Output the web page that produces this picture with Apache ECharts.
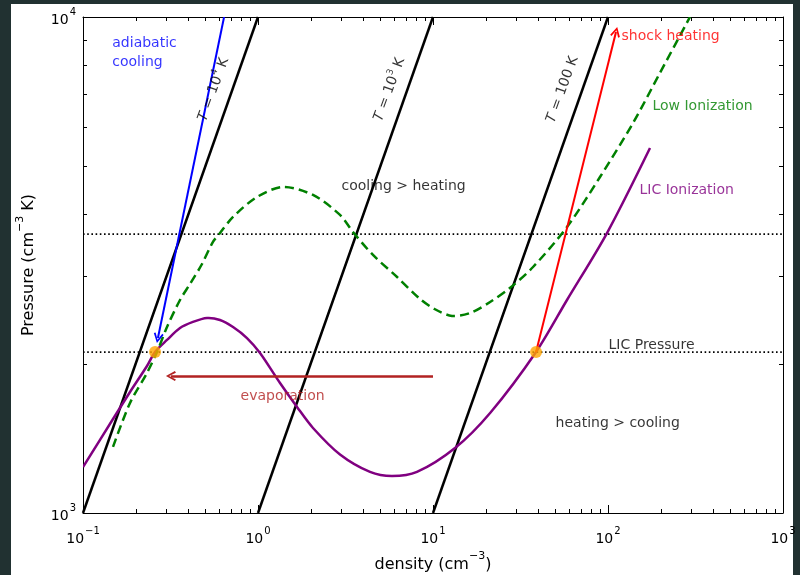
<!DOCTYPE html>
<html><head><meta charset="utf-8">
<script src="https://cdn.jsdelivr.net/npm/echarts@6/dist/echarts.min.js"></script>
<style>
html,body{margin:0;padding:0;background:#213131;width:800px;height:575px;overflow:hidden;}
#bg{position:absolute;left:11px;top:4px;width:782px;height:571px;background:#fff;}
#chart{position:absolute;left:0;top:0;width:800px;height:575px;}
</style></head><body><div id="bg"></div><div id="chart"></div>
<script>
// ---- data (density cm^-3, pressure cm^-3 K) ----
const xTickValues = [0.1, 1, 10, 100, 1000];
const yTickValues = [1000, 10000];
const isotherm1e4 = [[0.1, 1000], [1, 10000]];
const isotherm1e3 = [[1, 1000], [10, 10000]];
const isotherm100 = [[10, 1000], [100, 10000]];
const licPressure = 2110;
const upperPressure = 3650;
const licIonization = [
  [0.1, 1238], [0.1484, 1547], [0.1856, 1754], [0.2321, 1979], [0.258, 2112],
  [0.302, 2233], [0.3584, 2360], [0.425, 2428], [0.5113, 2473], [0.6066, 2450],
  [0.72, 2371], [0.865, 2253], [1.027, 2102], [1.336, 1828], [1.671, 1636],
  [2.062, 1484], [2.942, 1312], [4.365, 1210], [5.83, 1187], [8.1, 1210],
  [13.36, 1352], [21.2, 1591], [38.8, 2112], [58.3, 2688], [98.7, 3668], [173.8, 5443]
];
const lowIonization = [
  [0.1484, 1359], [0.1856, 1667], [0.2321, 1916], [0.2648, 2112], [0.302, 2371],
  [0.3584, 2688], [0.41, 2900], [0.475, 3162], [0.553, 3519], [0.6066, 3668],
  [0.72, 3953], [0.987, 4337], [1.39, 4543], [2.062, 4377], [2.942, 3990],
  [3.49, 3685], [4.54, 3313], [6.23, 2991], [8.43, 2701], [10.2, 2578],
  [12.84, 2496], [16.27, 2530], [21.2, 2663], [27.5, 2842], [37.3, 3133],
  [58.3, 3772], [90, 4758], [139, 6113], [198, 7712], [294, 10000]
];
const equilibriumPoints = [[0.258, 2112], [38.8, 2112]];
const adiabaticArrow = [[0.64, 10000], [0.268, 2253]];
const shockArrow = [[38.8, 2112], [111.1, 9329]];
const evaporationArrow = [[10, 1888], [0.318, 1888]];

// ---- annotation placement (data coords) ----
const notes = [
  {text: 'adiabatic\ncooling', at: [0.148, 8543], color: '#0000ff'},
  {text: 'shock heating', at: [120.2, 9199], color: '#ff0000'},
  {text: 'Low Ionization', at: [180.7, 6645], color: '#008000'},
  {text: 'LIC Ionization', at: [152.4, 4500], color: '#800080'},
  {text: 'cooling > heating', at: [3.02, 4585], color: '#000'},
  {text: 'LIC Pressure', at: [101.4, 2191], color: '#000'},
  {text: 'evaporation', at: [0.8, 1729], color: '#b22222'},
  {text: 'heating > cooling', at: [50.5, 1526], color: '#000'},
  {text: '{i|T} = 10{s|4} K', at: [0.561, 7125], color: '#000', rot: 70},
  {text: '{i|T} = 10{s|3} K', at: [5.68, 7125], color: '#000', rot: 70},
  {text: '{i|T} = 100 K', at: [55.3, 7125], color: '#000', rot: 70}
];

const FONT = 'DejaVu Sans';
function pow10Label(v) {
  const k = Math.round(Math.log10(v));
  return '{b|10}{s|' + String(k).replace('-', '−') + '}';
}
const supRich = {
  b: {fontFamily: FONT, fontSize: 14, color: '#000', lineHeight: 20, verticalAlign: 'bottom'},
  s: {fontFamily: FONT, fontSize: 10, color: '#000', lineHeight: 20, verticalAlign: 'top', padding: [0, 0, 0, 1]}
};
const xMin = xTickValues[0], xMax = xTickValues[xTickValues.length - 1];
const yMin = yTickValues[0], yMax = yTickValues[yTickValues.length - 1];

function minorValues(lo, hi) {
  const out = [];
  for (let d = lo; d < hi; d *= 10) for (let m = 2; m <= 9; m++) out.push(m * d);
  return out;
}

const chevron = 'path://M5,0 L10,9 L8.4,10 L5,3.2 L1.6,10 L0,9 Z';

const baseAxis = {
  type: 'log', logBase: 10,
  axisLine: {show: true, lineStyle: {color: '#000', width: 1}},
  axisTick: {show: true, inside: true, length: 8, lineStyle: {color: '#000', width: 1}},
  splitLine: {show: false},
  minorTick: {show: false}
};

const chart = echarts.init(document.getElementById('chart'), null, {renderer: 'canvas'});
const series = [];

[isotherm1e4, isotherm1e3, isotherm100].forEach(d => series.push({
  type: 'line', data: d, showSymbol: false, symbol: 'none', silent: true, z: 2,
  lineStyle: {color: '#000', width: 2.5}
}));
[licPressure, upperPressure].forEach(p => series.push({
  type: 'line', data: [[xMin, p], [xMax, p]], showSymbol: false, symbol: 'none', silent: true, z: 2,
  lineStyle: {color: '#000', width: 1.6, type: [1.6, 2.6]}
}));

// smooth curves: one polyline through all the series' points, mapped by the axes
function curveSeries(name, pts, style) {
  return {
    type: 'custom', name: name, silent: true, z: 3, clip: true,
    data: pts,
    encode: {x: 0, y: 1},
    renderItem: function (params, api) {
      if (params.dataIndex !== 0) return null;
      const px = pts.map(p => api.coord(p));
      return {
        type: 'polyline',
        shape: {points: px, smooth: 0.3},
        style: Object.assign({fill: null, lineJoin: 'round', lineCap: 'butt'}, style)
      };
    }
  };
}
series.push(curveSeries('LIC Ionization', licIonization, {stroke: '#800080', lineWidth: 2.5}));
series.push(curveSeries('Low Ionization', lowIonization, {stroke: '#008000', lineWidth: 2.5, lineDash: [9, 5]}));

series.push({
  type: 'lines', coordinateSystem: 'cartesian2d', silent: true, z: 4,
  symbol: ['none', chevron], symbolSize: [10, 10],
  data: [
    {coords: adiabaticArrow, lineStyle: {color: '#0000ff', width: 2}},
    {coords: shockArrow, lineStyle: {color: '#ff0000', width: 2}},
    {coords: evaporationArrow, lineStyle: {color: '#b22222', width: 2.5}}
  ],
  lineStyle: {opacity: 1, curveness: 0}
});
series.push({
  type: 'scatter', data: equilibriumPoints, symbolSize: 12, silent: true, z: 5,
  itemStyle: {color: '#ffa500'}
});
series.push({
  type: 'scatter', silent: true, z: 6, symbolSize: 1,
  itemStyle: {color: 'rgba(0,0,0,0)'},
  data: notes.map(n => ({
    value: n.at,
    label: {
      show: true, formatter: n.text, color: n.color, rotate: n.rot || 0,
      position: [0, 0], align: n.rot ? 'center' : 'left', verticalAlign: 'middle',
      offset: n.rot ? [0, 0] : [0, 2],
      fontFamily: FONT, fontSize: 14, lineHeight: 19,
      rich: {
        i: {fontStyle: 'italic', fontFamily: FONT, fontSize: 14, color: n.color, lineHeight: 19},
        s: {fontFamily: FONT, fontSize: 9, color: n.color, lineHeight: 19, verticalAlign: 'top'}
      }
    }
  }))
});
// minor log ticks on all four sides
series.push({
  type: 'custom', silent: true, z: 7, clip: false,
  data: [[1, 1000]],
  renderItem: function (params, api) {
    const ch = [];
    const st = {stroke: '#000', lineWidth: 1};
    minorValues(xMin, xMax).forEach(v => {
      const b = api.coord([v, yMin]), t = api.coord([v, yMax]);
      const x = Math.round(b[0]) + 0.5;
      ch.push({type: 'line', shape: {x1: x, y1: b[1], x2: x, y2: b[1] - 4}, style: st});
      ch.push({type: 'line', shape: {x1: x, y1: t[1], x2: x, y2: t[1] + 4}, style: st});
    });
    minorValues(yMin, yMax).forEach(v => {
      const l = api.coord([xMin, v]), r = api.coord([xMax, v]);
      const y = Math.round(l[1]) + 0.5;
      ch.push({type: 'line', shape: {x1: l[0], y1: y, x2: l[0] + 4, y2: y}, style: st});
      ch.push({type: 'line', shape: {x1: r[0], y1: y, x2: r[0] - 4, y2: y}, style: st});
    });
    return {type: 'group', children: ch};
  }
});

const nameRich = {
  n: {fontFamily: FONT, fontSize: 16, color: '#000', lineHeight: 22, verticalAlign: 'bottom'},
  s: {fontFamily: FONT, fontSize: 11, color: '#000', lineHeight: 22, verticalAlign: 'top'}
};

chart.setOption({
  animation: false,
  backgroundColor: 'transparent',
  grid: {left: 83, right: 17, top: 17, bottom: 62, containLabel: false, outerBoundsMode: 'none'},
  xAxis: [
    Object.assign({}, baseAxis, {
      position: 'bottom', min: xMin, max: xMax,
      name: '{n|density (cm}{s|−3}{n|)}', nameLocation: 'middle', nameGap: 34,
      nameTextStyle: {fontFamily: FONT, fontSize: 16, color: '#000', rich: nameRich},
      axisLabel: {show: true, formatter: pow10Label, fontFamily: FONT, fontSize: 14, color: '#000', margin: 13,
        showMinLabel: true, showMaxLabel: true, rich: supRich}
    }),
    Object.assign({}, baseAxis, {position: 'top', min: xMin, max: xMax, axisLabel: {show: false}})
  ],
  yAxis: [
    Object.assign({}, baseAxis, {
      position: 'left', min: yMin, max: yMax,
      name: '{n|Pressure (cm}{s|−3}{n| K)}', nameLocation: 'middle', nameGap: 46,
      nameTextStyle: {fontFamily: FONT, fontSize: 16, color: '#000', rich: nameRich},
      axisLabel: {show: true, formatter: pow10Label, fontFamily: FONT, fontSize: 14, color: '#000', margin: 7,
        showMinLabel: true, showMaxLabel: true, rich: supRich}
    }),
    Object.assign({}, baseAxis, {position: 'right', min: yMin, max: yMax, axisLabel: {show: false}})
  ],
  series: series
});
</script></body></html>
